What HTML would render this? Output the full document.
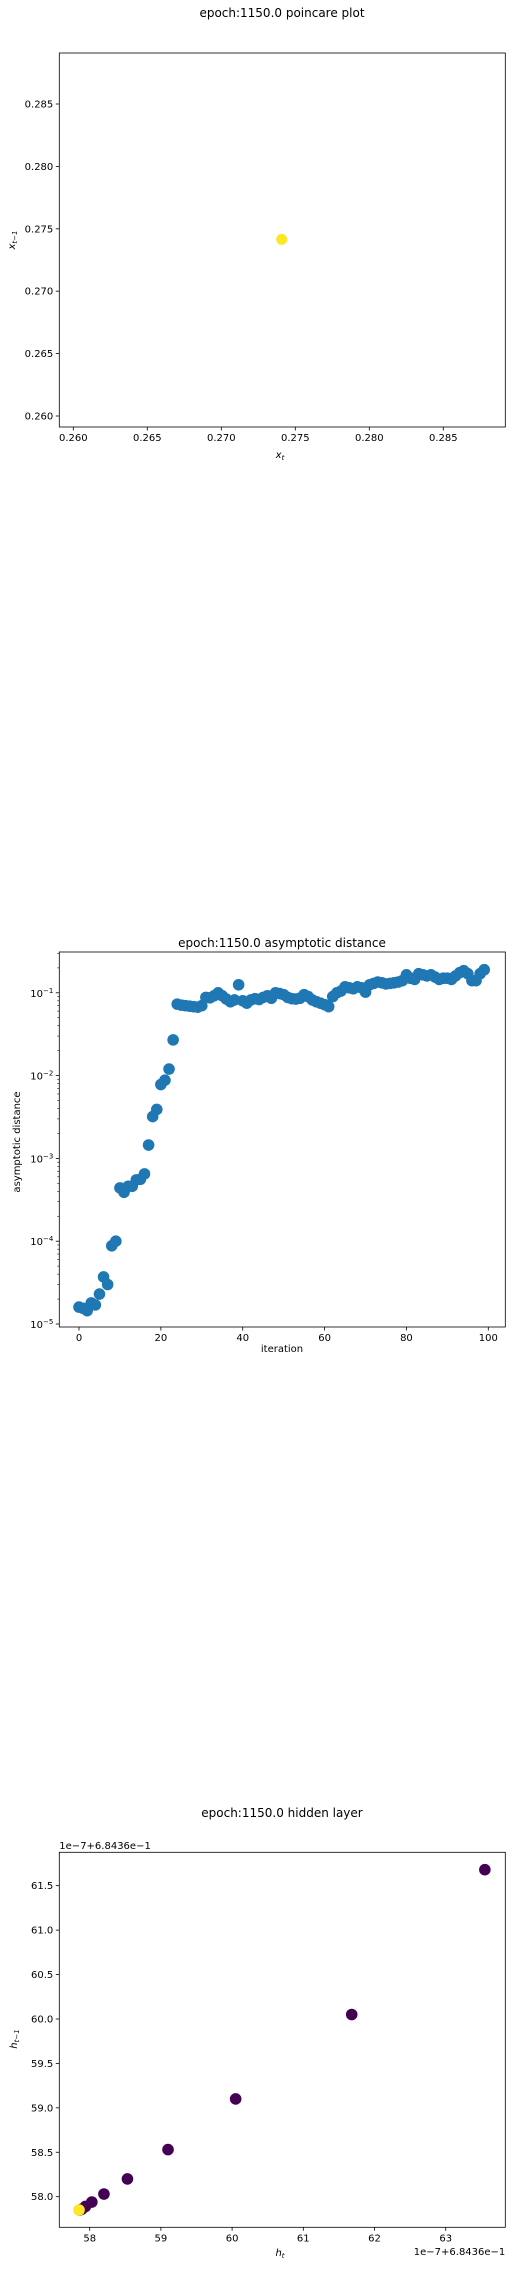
<!DOCTYPE html>
<html><head><meta charset="utf-8"><style>
html,body{margin:0;padding:0;background:#fff;}
svg{display:block;font-family:"DejaVu Sans","Liberation Sans",sans-serif;}
</style></head><body>
<svg id="fig" width="512" height="2269" viewBox="0 0 512 2269" xmlns="http://www.w3.org/2000/svg"></svg>
<script>
// ---- Chart 1: poincare plot ----
const poincareX = [0.27408];
const poincareY = [0.27415];
const p1XTicks = [0.260, 0.265, 0.270, 0.275, 0.280, 0.285];
const p1YTicks = [0.260, 0.265, 0.270, 0.275, 0.280, 0.285];

// ---- Chart 2: asymptotic distance ----
const distIter = Array.from({length:100},(_, i)=>i);
const distValues = [1.6e-5,1.55e-5,1.45e-5,1.8e-5,1.7e-5,2.3e-5,3.7e-5,3.0e-5,8.8e-5,1.0e-4,
4.4e-4,3.9e-4,4.6e-4,4.6e-4,5.5e-4,5.6e-4,6.5e-4,1.45e-3,3.2e-3,3.9e-3,
7.8e-3,8.8e-3,1.2e-2,2.7e-2,0.073,0.071,0.070,0.069,0.068,0.067,
0.070,0.088,0.087,0.092,0.100,0.092,0.084,0.078,0.082,0.125,
0.080,0.075,0.082,0.085,0.083,0.088,0.092,0.086,0.100,0.098,
0.095,0.088,0.085,0.084,0.086,0.095,0.090,0.082,0.078,0.075,
0.072,0.068,0.090,0.100,0.105,0.118,0.115,0.112,0.118,0.115,
0.102,0.125,0.130,0.135,0.132,0.128,0.130,0.132,0.135,0.140,
0.165,0.150,0.145,0.170,0.165,0.160,0.165,0.155,0.145,0.150,
0.150,0.145,0.160,0.175,0.185,0.170,0.140,0.140,0.170,0.190];
const p2XTicks = [0, 20, 40, 60, 80, 100];
const p2YTickExps = [-5, -4, -3, -2, -1];

// ---- Chart 3: hidden layer (units of 1e-7 offset from 6.8436e-1) ----
const hiddenX = [63.55, 61.68, 60.05, 59.10, 58.53, 58.20, 58.03, 57.94, 57.89, 57.86, 57.85];
const hiddenY = [61.68, 60.05, 59.10, 58.53, 58.20, 58.03, 57.94, 57.89, 57.86, 57.85, 57.85];
const p3XTicks = [58, 59, 60, 61, 62, 63];
const p3YTicks = ["58.0","58.5","59.0","59.5","60.0","60.5","61.0","61.5"];

const NS = "http://www.w3.org/2000/svg";
const svg = document.getElementById('fig');
function mk(tag, attrs, parent, text){
  const e = document.createElementNS(NS, tag);
  for (const k in attrs) e.setAttribute(k, attrs[k]);
  if (text !== undefined) e.textContent = text;
  (parent||svg).appendChild(e);
  return e;
}
const L = 59.3, R = 505.3;

// ===== Chart 1 =====
{
  const g = mk('g', {});
  
  
  const T = 53, B = 427;
  const sx = v => 73.3 + (v - 0.260) / 0.005 * 74;
  const sy = v => 416 - (v - 0.260) / 0.005 * 62.4;
  const t = mk('text', {x:282, y:17, 'font-size':12, 'text-anchor':'middle', fill:'#000'}, g, 'epoch:1150.0 poincare plot');
  
  
  poincareX.forEach((x, i) => {
    const c = mk('circle', {cx:sx(x), cy:sy(poincareY[i]), r:5.5, fill:'#fde725'}, g);
    
    
  });
  const fr = mk('rect', {x:L, y:T, width:R-L, height:B-T, fill:'none', stroke:'#000', 'stroke-width':0.8}, g);
  
  
  p1XTicks.forEach(v => {
    const x = sx(v);
    mk('line', {x1:x, x2:x, y1:B, y2:B+3.5, stroke:'#000', 'stroke-width':0.8}, g);
    const tl = mk('text', {x:x, y:B+14, 'font-size':10, 'text-anchor':'middle'}, g, v.toFixed(3));
    
    
  });
  p1YTicks.forEach(v => {
    const y = sy(v);
    mk('line', {x1:L, x2:L-3.5, y1:y, y2:y, stroke:'#000', 'stroke-width':0.8}, g);
    const tl = mk('text', {x:L-6, y:y+3.5, 'font-size':10, 'text-anchor':'end'}, g, v.toFixed(3));
    
    
  });
  const xl = mk('text', {x:280, y:458, 'font-size':10, 'font-style':'italic', 'text-anchor':'middle'}, g);
  xl.innerHTML = 'x<tspan font-size="7" dy="2">t</tspan>';
  
  
  const yl = mk('text', {transform:'translate(15,240) rotate(-90)', 'font-size':10, 'font-style':'italic', 'text-anchor':'middle'}, g);
  yl.innerHTML = 'x<tspan font-size="7" dy="2">t−1</tspan>';
  
  
}

// ===== Chart 2 =====
{
  const g = mk('g', {});
  
  
  const T = 952, B = 1327, DEC = 82.8;
  const sx = v => 79 + v * 4.093;
  const sy = v => 1324 - (Math.log10(v) + 5) * DEC;
  const t = mk('text', {x:282, y:947, 'font-size':12, 'text-anchor':'middle'}, g, 'epoch:1150.0 asymptotic distance');
  
  
  distIter.forEach((x, i) => {
    const c = mk('circle', {cx:sx(x), cy:sy(distValues[i]), r:5.8, fill:'#1f77b4'}, g);
    
    
  });
  const fr = mk('rect', {x:L, y:T, width:R-L, height:B-T, fill:'none', stroke:'#000', 'stroke-width':0.8}, g);
  
  
  p2XTicks.forEach(v => {
    const x = sx(v);
    mk('line', {x1:x, x2:x, y1:B, y2:B+3.5, stroke:'#000', 'stroke-width':0.8}, g);
    const tl = mk('text', {x:x, y:B+14, 'font-size':10, 'text-anchor':'middle'}, g, String(v));
    
    
  });
  p2YTickExps.forEach(e => {
    const y = sy(Math.pow(10, e));
    mk('line', {x1:L, x2:L-3.5, y1:y, y2:y, stroke:'#000', 'stroke-width':0.8}, g);
    const tl = mk('text', {x:L-6, y:y+4, 'font-size':10, 'text-anchor':'end'}, g);
    tl.innerHTML = '10<tspan font-size="7" dy="-4">−' + (-e) + '</tspan>';
    
    
    for (let m = 2; m <= 9; m++) {
      const ym = sy(m * Math.pow(10, e));
      if (ym >= T) mk('line', {x1:L, x2:L-2, y1:ym, y2:ym, stroke:'#000', 'stroke-width':0.6}, g);
    }
  });
  const xl = mk('text', {x:282, y:1352, 'font-size':10, 'text-anchor':'middle'}, g, 'iteration');
  
  
  const yl = mk('text', {transform:'translate(20,1142) rotate(-90)', 'font-size':10, 'text-anchor':'middle'}, g, 'asymptotic distance');
  
  
}

// ===== Chart 3 =====
{
  const g = mk('g', {});
  
  
  const T = 1852.3, B = 2227.3;
  const sx = v => 89.7 + (v - 58) * 71.2;
  const sy = v => 2196.7 - (v - 58) * 88.86;
  const t = mk('text', {x:282, y:1817, 'font-size':12, 'text-anchor':'middle'}, g, 'epoch:1150.0 hidden layer');
  
  
  hiddenX.forEach((x, i) => {
    const last = i === hiddenX.length - 1;
    const c = mk('circle', {cx:sx(x), cy:sy(hiddenY[i]), r:5.8, fill: last ? '#fde725' : '#440154'}, g);
    
    
  });
  const fr = mk('rect', {x:L, y:T, width:R-L, height:B-T, fill:'none', stroke:'#000', 'stroke-width':0.8}, g);
  
  
  p3XTicks.forEach(v => {
    const x = sx(v);
    mk('line', {x1:x, x2:x, y1:B, y2:B+3.5, stroke:'#000', 'stroke-width':0.8}, g);
    const tl = mk('text', {x:x, y:B+14, 'font-size':10, 'text-anchor':'middle'}, g, String(v));
    
    
  });
  p3YTicks.forEach(s => {
    const y = sy(parseFloat(s));
    mk('line', {x1:L, x2:L-3.5, y1:y, y2:y, stroke:'#000', 'stroke-width':0.8}, g);
    const tl = mk('text', {x:L-6, y:y+3.5, 'font-size':10, 'text-anchor':'end'}, g, s);
    
    
  });
  const o1 = mk('text', {x:L, y:1849, 'font-size':10}, g, '1e−7+6.8436e−1');
  
  
  const o2 = mk('text', {x:R, y:2255, 'font-size':10, 'text-anchor':'end'}, g, '1e−7+6.8436e−1');
  
  
  const xl = mk('text', {x:280, y:2256, 'font-size':10, 'font-style':'italic', 'text-anchor':'middle'}, g);
  xl.innerHTML = 'h<tspan font-size="7" dy="2">t</tspan>';
  
  
  const yl = mk('text', {transform:'translate(17,2039) rotate(-90)', 'font-size':10, 'font-style':'italic', 'text-anchor':'middle'}, g);
  yl.innerHTML = 'h<tspan font-size="7" dy="2">t−1</tspan>';
  
  
}
</script>
</body></html>
